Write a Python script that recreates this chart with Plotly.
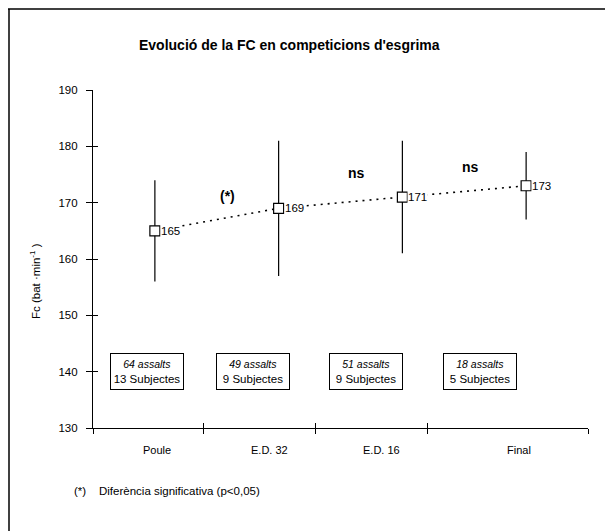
import plotly.graph_objects as go

# ---- data ----
categories = ["Poule", "E.D. 32", "E.D. 16", "Final"]
fc_mean = [165, 169, 171, 173]
fc_sd = [9, 12, 10, 6]
assalts = [64, 49, 51, 18]
subjectes = [13, 9, 9, 5]
significance = ["(*)", "ns", "ns"]
y_ticks = [130, 140, 150, 160, 170, 180, 190]

# ---- layout helpers (positions on the numeric x scale 0..4) ----
point_x = [0.5, 1.5, 2.5, 3.5]
cat_label_x = [0.52, 1.43, 2.33, 3.44]
box_x = [0.44, 1.29, 2.21, 3.13]
sig_pos = [(1.09, 171.2), (2.13, 175.2), (3.05, 176.3)]
x_tick_vals = [0, 0.89, 1.8, 2.7, 4]

FONT = "Liberation Sans, Arial, sans-serif"

# page offset (body margin) = 8px; plot area in page px: x 93..588, y 90..428
PX0, PX1, PY0, PY1 = 93, 588, 90, 428


def px(x):
    return (x - PX0) / (PX1 - PX0)


def py(y):
    return (PY1 - y) / (PY1 - PY0)


fig = go.Figure()

fig.add_trace(go.Scatter(
    x=point_x, y=fc_mean, mode="lines",
    line=dict(color="black", width=1.6, dash="2px,5px"),
    hoverinfo="skip", showlegend=False))

fig.add_trace(go.Scatter(
    x=point_x, y=fc_mean, mode="markers",
    marker=dict(symbol="square", size=10, color="white",
                line=dict(color="black", width=1.2)),
    error_y=dict(type="data", array=fc_sd, visible=True,
                 color="black", thickness=1.2, width=0),
    showlegend=False))

fig.add_trace(go.Scatter(x=[0], y=[130], xaxis="x2", yaxis="y2",
                         mode="markers", marker=dict(opacity=0),
                         hoverinfo="skip", showlegend=False))

annotations = []
for xv, m in zip(point_x, fc_mean):
    annotations.append(dict(x=xv, y=m, text=str(m), showarrow=False,
                            xanchor="left", yanchor="middle", xshift=5,
                            bgcolor="white", borderpad=0,
                            font=dict(family=FONT, size=11.5, color="black")))
for (sx, sy), s in zip(sig_pos, significance):
    annotations.append(dict(x=sx, y=sy, text=f"<b>{s}</b>", showarrow=False,
                            font=dict(family=FONT, size=14, color="black")))
for cx, c in zip(cat_label_x, categories):
    annotations.append(dict(x=cx, y=0, yref="paper", text=c, showarrow=False,
                            yanchor="top", yshift=-14,
                            font=dict(family=FONT, size=11, color="black")))
for bx, a, s in zip(box_x, assalts, subjectes):
    annotations.append(dict(x=bx, y=140,
                            text=f"<i><span style='font-size:10.5px'>{a} assalts</span></i><br>{s} Subjectes",
                            showarrow=False, width=68, height=31,
                            bordercolor="black", borderwidth=1, borderpad=2,
                            bgcolor="white", align="center",
                            font=dict(family=FONT, size=11.5, color="black")))
annotations.append(dict(x=px(289), xref="paper", y=py(45), yref="paper",
                        text="<b>Evolució de la FC en competicions d'esgrima</b>",
                        showarrow=False, xanchor="center", yanchor="middle",
                        font=dict(family=FONT, size=14, color="black")))
annotations.append(dict(x=px(35), xref="paper", y=py(281), yref="paper",
                        text="Fc (bat ·min<sup>-1</sup> )", textangle=-90,
                        showarrow=False, xanchor="center", yanchor="middle",
                        font=dict(family=FONT, size=11.5, color="black")))
annotations.append(dict(x=px(72), xref="paper", y=py(491), yref="paper",
                        text="(*)", showarrow=False, xanchor="left", yanchor="middle",
                        font=dict(family=FONT, size=11.5, color="black")))
annotations.append(dict(x=px(97), xref="paper", y=py(491), yref="paper",
                        text="Diferència significativa (p<0,05)", showarrow=False,
                        xanchor="left", yanchor="middle",
                        font=dict(family=FONT, size=11.5, color="black")))

shapes = [
    dict(type="line", xref="paper", yref="paper",
         x0=px(9), x1=px(9), y0=py(9), y1=py(545),
         line=dict(color="black", width=1.5)),
    dict(type="line", xref="paper", yref="paper",
         x0=px(8), x1=px(630), y0=py(9), y1=py(9),
         line=dict(color="black", width=1.5)),
]

fig.update_layout(
    width=613, height=531,
    margin=dict(l=PX0 - 8, r=613 - (PX1 - 8), t=PY0 - 8, b=531 - (PY1 - 8)),
    paper_bgcolor="white", plot_bgcolor="white",
    showlegend=False,
    font=dict(family=FONT, size=12, color="black"),
    xaxis=dict(range=[0, 4], showgrid=False, zeroline=False,
               showline=True, linecolor="black", linewidth=1.2,
               tickmode="array", tickvals=x_tick_vals, showticklabels=False,
               ticks="outside", ticklen=5, tickcolor="black", tickwidth=1.2),
    yaxis=dict(range=[130, 190], showgrid=False, zeroline=False,
               showline=True, linecolor="black", linewidth=1.2,
               tickmode="array", tickvals=y_ticks,
               ticks="outside", ticklen=6, tickcolor="black", tickwidth=1.2,
               tickfont=dict(family=FONT, size=11.5, color="black"), ticklabelstandoff=6),
    xaxis2=dict(range=[0, 4], overlaying="x", anchor="y2", side="bottom",
                showgrid=False, zeroline=False, showline=False,
                tickmode="array", tickvals=x_tick_vals, showticklabels=False,
                ticks="inside", ticklen=5, tickcolor="black", tickwidth=1.2),
    yaxis2=dict(range=[130, 190], overlaying="y", anchor="x2", side="left",
                showgrid=False, zeroline=False, showline=False,
                tickmode="array", tickvals=y_ticks, showticklabels=False,
                ticks="inside", ticklen=5, tickcolor="black", tickwidth=1.2),
    annotations=annotations,
    shapes=shapes,
)

fig.write_html("out.html")
